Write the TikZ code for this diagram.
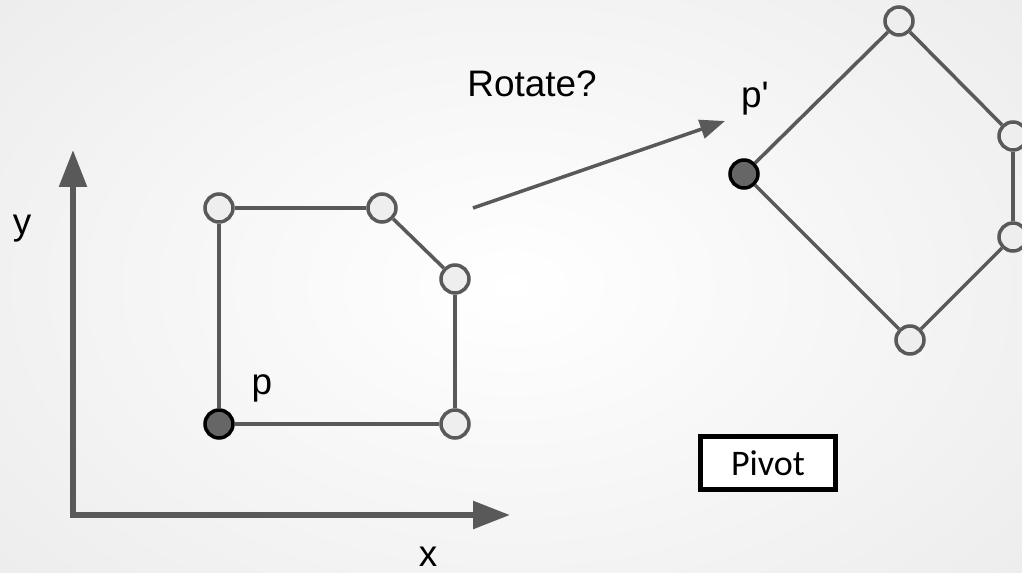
\documentclass[tikz,border=0pt]{standalone}
\usepackage{fontspec}
\setmainfont{Liberation Sans}
\newfontfamily\labelfont{Liberation Sans}
\newfontfamily\boxfont{Carlito}
\usetikzlibrary{
  positioning,
  arrows.meta
}
\definecolor{ink}{HTML}{595959}
\definecolor{vertexfill}{HTML}{EEEEEE}
\definecolor{pivotfill}{HTML}{666666}

\begin{document}
\begin{tikzpicture}[
  x=0.02cm, y=-0.02cm,
  vertex/.style={circle, draw=ink, fill=vertexfill, line width=2pt,
                 minimum size=0.56cm, inner sep=0pt},
  pivotpt/.style={vertex, draw=black, fill=pivotfill},
  edge/.style={draw=ink, line width=2pt},
  axis/.style={draw=ink, line width=3.2pt, line join=miter,
               {Triangle[length=0.74cm, width=0.54cm]}-{Triangle[length=0.74cm, width=0.54cm]}},
  arr/.style={draw=ink, line width=2pt, -{Triangle[length=0.5cm, width=0.38cm]}},
  lbl/.style={font=\labelfont\fontsize{21}{25}\selectfont, inner sep=0pt},
  pivotbox/.style={draw=black, fill=white, line width=2.6pt, font=\boxfont\fontsize{20.5}{24}\selectfont,
                   minimum width=2.7cm, minimum height=1.06cm, inner sep=0pt}
]
  % background
  \clip (0,0) rectangle (1022,572);
  \shade[inner color=white, outer color=gray!14] (-150,-150) rectangle (1172,722);

  % axes
  \draw[axis] (73,150) -- (73,515) -- (510,515);
  \node[lbl] (ylab) at (22,229) {y};
  \node[lbl] (xlab) at (428,557) {x};

  % original shape
  \node[vertex] (a1) at (219,208) {};
  \node[vertex] (a2) at (382,208) {};
  \node[vertex] (a3) at (455,279) {};
  \node[vertex] (a4) at (455,424) {};
  \node[pivotpt] (a0) at (219,424) {};

  \draw[edge] (a0) -- (a1);
  \draw[edge] (a1) -- (a2);
  \draw[edge] (a2) -- (a3);
  \draw[edge] (a3) -- (a4);
  \draw[edge] (a4) -- (a0);

  \node[lbl] (plab) at (262,388) {p};

  % rotated shape
  \node[vertex] (b1) at (899,21) {};
  \node[vertex] (b2) at (1013,136) {};
  \node[vertex] (b3) at (1013,237) {};
  \node[vertex] (b4) at (910,340) {};
  \node[pivotpt] (b0) at (744,174) {};

  \draw[edge] (b0) -- (b1);
  \draw[edge] (b1) -- (b2);
  \draw[edge] (b2) -- (b3);
  \draw[edge] (b3) -- (b4);
  \draw[edge] (b4) -- (b0);

  \node[lbl] (pplab) at (755,99) {p'};

  % rotate arrow
  \coordinate (rotfrom) at (473,208);
  \coordinate (rotto) at (725,121);
  \draw[arr] (rotfrom) -- (rotto);
  \node[lbl] (rotlab) at (532,84) {Rotate?};

  % legend box
  \node[pivotbox] (pivot) at (768,463) {Pivot};
\end{tikzpicture}
\end{document}
